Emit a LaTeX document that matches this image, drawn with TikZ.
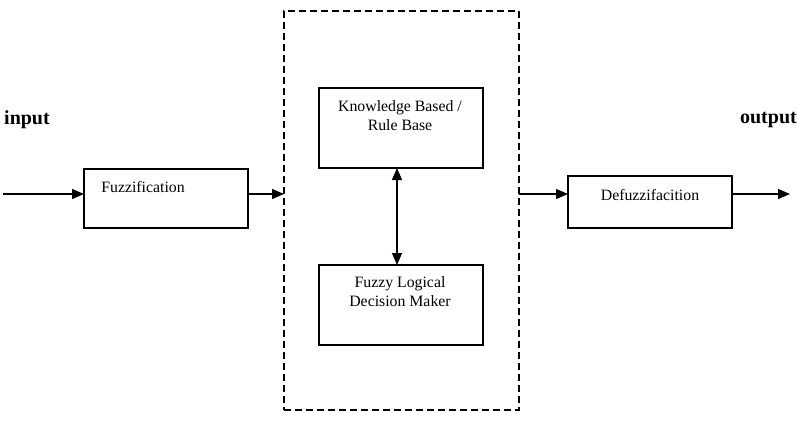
\documentclass[tikz,border=0pt]{standalone}
\usepackage{fontspec}
\setmainfont{Liberation Serif}
\usetikzlibrary{arrows.meta}
\begin{document}
\begin{tikzpicture}[x=1pt,y=-1pt,
  box/.style={draw, line width=1.3pt, inner sep=0pt, outer sep=0pt},
  lbl/.style={inner sep=0pt, align=center, font=\fontsize{15.8}{19}\selectfont},
  big/.style={inner sep=0pt, font=\fontsize{20}{24}\selectfont\bfseries},
  arr/.style={line width=1.3pt, -{Triangle[length=12pt,width=10pt]}},
  arr2/.style={line width=1.3pt, {Triangle[length=12pt,width=10pt]}-{Triangle[length=12pt,width=10pt]}}]
\useasboundingbox (0,0) rectangle (797,420);
% boxes
\node[box, minimum width=164pt, minimum height=59pt] (fuz) at (166,198.5) {};
\node[box, dashed, dash pattern=on 7pt off 4pt, minimum width=235pt, minimum height=399pt] (dash) at (401.5,210.5) {};
\node[box, minimum width=164pt, minimum height=80pt] (kb) at (401,128) {};
\node[box, minimum width=164pt, minimum height=80pt] (dm) at (401,305) {};
\node[box, minimum width=164pt, minimum height=52pt] (def) at (650,202) {};
% texts
\node[lbl] (fuzt) at (143,187) {Fuzzification};
\node[lbl] (kbt) at (400,116) {Knowledge Based /\\Rule Base};
\node[lbl] (dmt) at (400,292) {Fuzzy Logical\\Decision Maker};
\node[lbl] (deft) at (650,195) {Defuzzifacition};
\node[big, anchor=west] (inp) at (4,120) {input};
\node[big, anchor=east] (outp) at (797,120) {output};
% connectors
\coordinate (inL) at (3,194);
\coordinate (outR) at (790,194);
\draw[arr] (inL) -- (inL -| fuz.west);
\draw[arr] (fuz.east |- inL) -- (dash.west |- inL);
\draw[arr] (dash.east |- inL) -- (def.west |- inL);
\draw[arr] (def.east |- inL) -- (outR);
\draw[arr2] ([xshift=-4pt]kb.south) -- ([xshift=-4pt]dm.north);
\end{tikzpicture}
\end{document}
